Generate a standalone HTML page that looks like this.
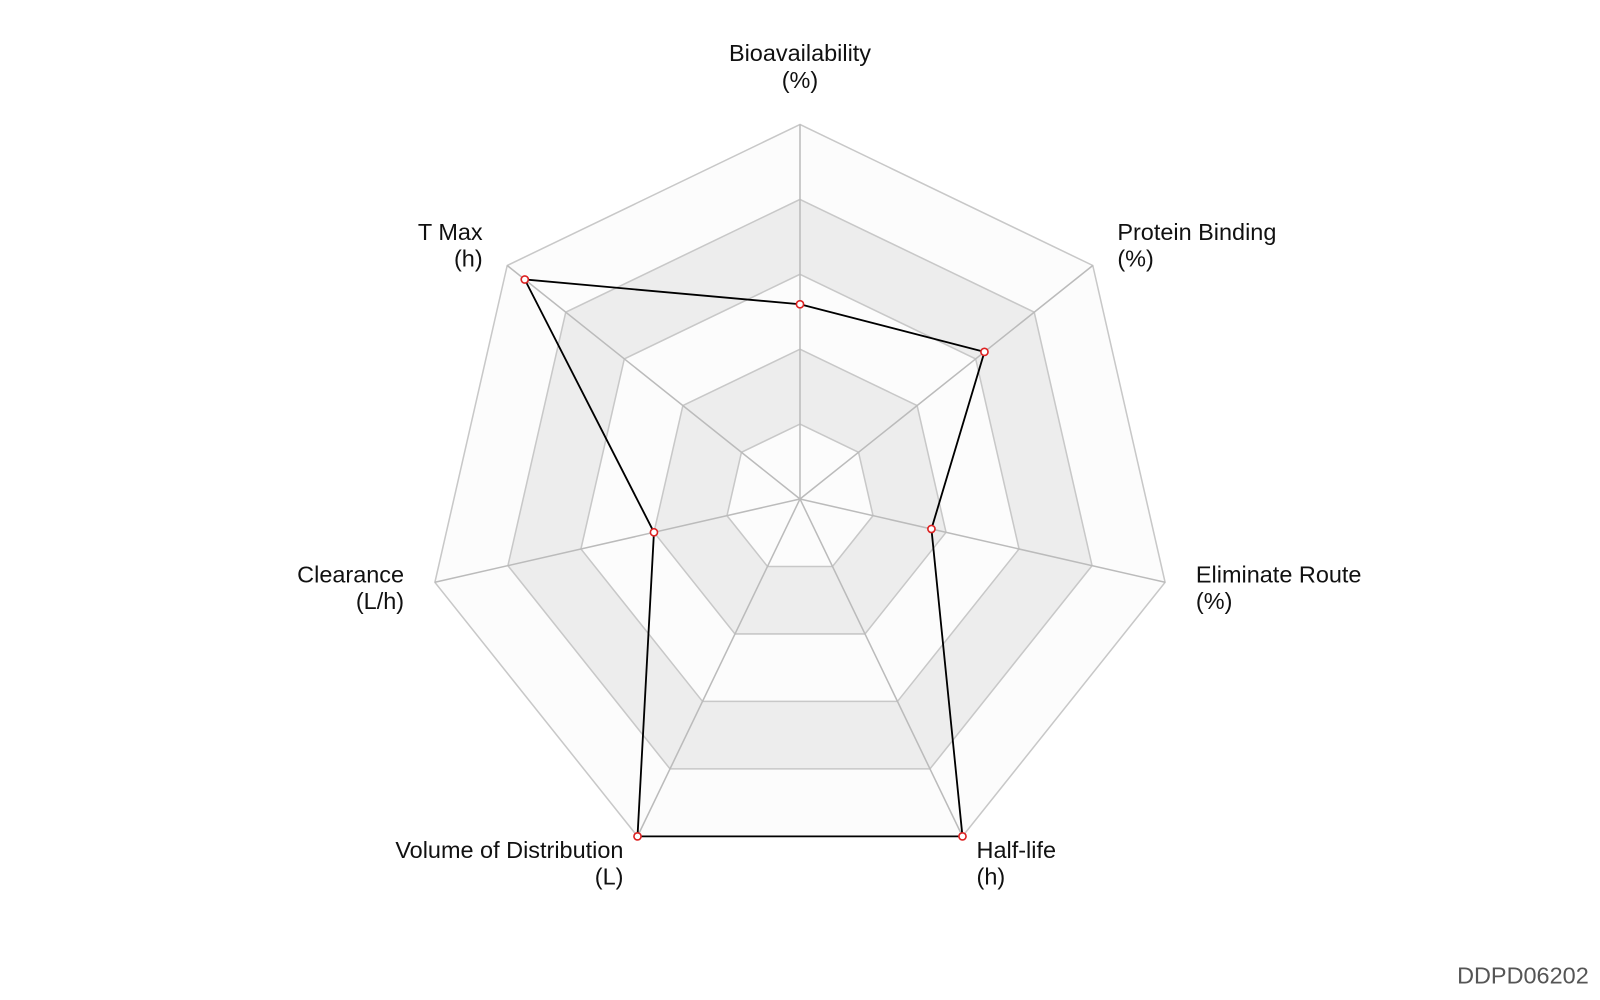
<!DOCTYPE html>
<html><head><meta charset="utf-8"><style>
html,body{margin:0;padding:0;background:#fff;}
svg{display:block;font-family:"Liberation Sans",sans-serif;}
</style></head><body>
<svg id="chart" width="1600" height="1000" viewBox="0 0 1600 1000">
<g transform="scale(1.0204)">
<g id="grid"></g>
<g id="axes"></g>
<g id="series"></g>
<g id="labels"></g>
<text x="1557" y="964" text-anchor="end" font-size="23" fill="#555">DDPD06202</text>
</g>
</svg>
<script>
const categories = ["Bioavailability","Protein Binding","Eliminate Route","Half-life","Volume of Distribution","Clearance","T Max"];
const units = ["(%)","(%)","(%)","(h)","(L)","(L/h)","(h)"];
const values = [0.52, 0.63, 0.36, 1.0, 1.0, 0.40, 0.94];
const ringLevels = [1, 0.8, 0.6, 0.4, 0.2];

const NS="http://www.w3.org/2000/svg";
const cx=784, cy=489, R=367, n=categories.length;
function ang(i){return -Math.PI/2 + i*2*Math.PI/n;}
function pt(i,v){return [cx+R*v*Math.cos(ang(i)), cy+R*v*Math.sin(ang(i))];}
function poly(v){return categories.map((c,i)=>pt(i,v).join(",")).join(" ");}
const grid=document.getElementById("grid");
ringLevels.forEach((lv,k)=>{
  const p=document.createElementNS(NS,"polygon");
  p.setAttribute("points",poly(lv));
  p.setAttribute("fill", k%2===0 ? "#fcfcfc" : "#ededed");
  p.setAttribute("stroke","#c8c8c8");
  p.setAttribute("stroke-width","1.5");
  
  
  grid.appendChild(p);
});
const axes=document.getElementById("axes");
categories.forEach((c,i)=>{
  const [x,y]=pt(i,1);
  const l=document.createElementNS(NS,"line");
  l.setAttribute("x1",cx);l.setAttribute("y1",cy);l.setAttribute("x2",x);l.setAttribute("y2",y);
  l.setAttribute("stroke","#bbb");l.setAttribute("stroke-width","1.5");
  
  
  axes.appendChild(l);
});
const series=document.getElementById("series");
const sp=document.createElementNS(NS,"polygon");
sp.setAttribute("points",values.map((v,i)=>pt(i,v).join(",")).join(" "));
sp.setAttribute("fill","none");sp.setAttribute("stroke","#000");sp.setAttribute("stroke-width","1.8");


series.appendChild(sp);
values.forEach((v,i)=>{
  const [x,y]=pt(i,v);
  const c=document.createElementNS(NS,"circle");
  c.setAttribute("cx",x);c.setAttribute("cy",y);c.setAttribute("r","3.5");
  c.setAttribute("fill","#fff");c.setAttribute("stroke","#d22");c.setAttribute("stroke-width","1.6");
  
  
  series.appendChild(c);
});
const labelPos=[[784,60,"middle"],[1095,235,"start"],[1172,571,"start"],[957,841,"start"],[611,841,"end"],[396,571,"end"],[473,235,"end"]];
const labels=document.getElementById("labels");
categories.forEach((c,i)=>{
  const [x,y,a]=labelPos[i];
  const t=document.createElementNS(NS,"text");
  t.setAttribute("x",x);t.setAttribute("y",y);t.setAttribute("text-anchor",a);
  t.setAttribute("font-size","23");t.setAttribute("fill","#111");
  
  
  const t1=document.createElementNS(NS,"tspan");t1.setAttribute("x",x);t1.textContent=c;
  const t2=document.createElementNS(NS,"tspan");t2.setAttribute("x",x);t2.setAttribute("dy","26");t2.textContent=units[i];
  t.appendChild(t1);t.appendChild(t2);
  labels.appendChild(t);
});
</script>
</body></html>
